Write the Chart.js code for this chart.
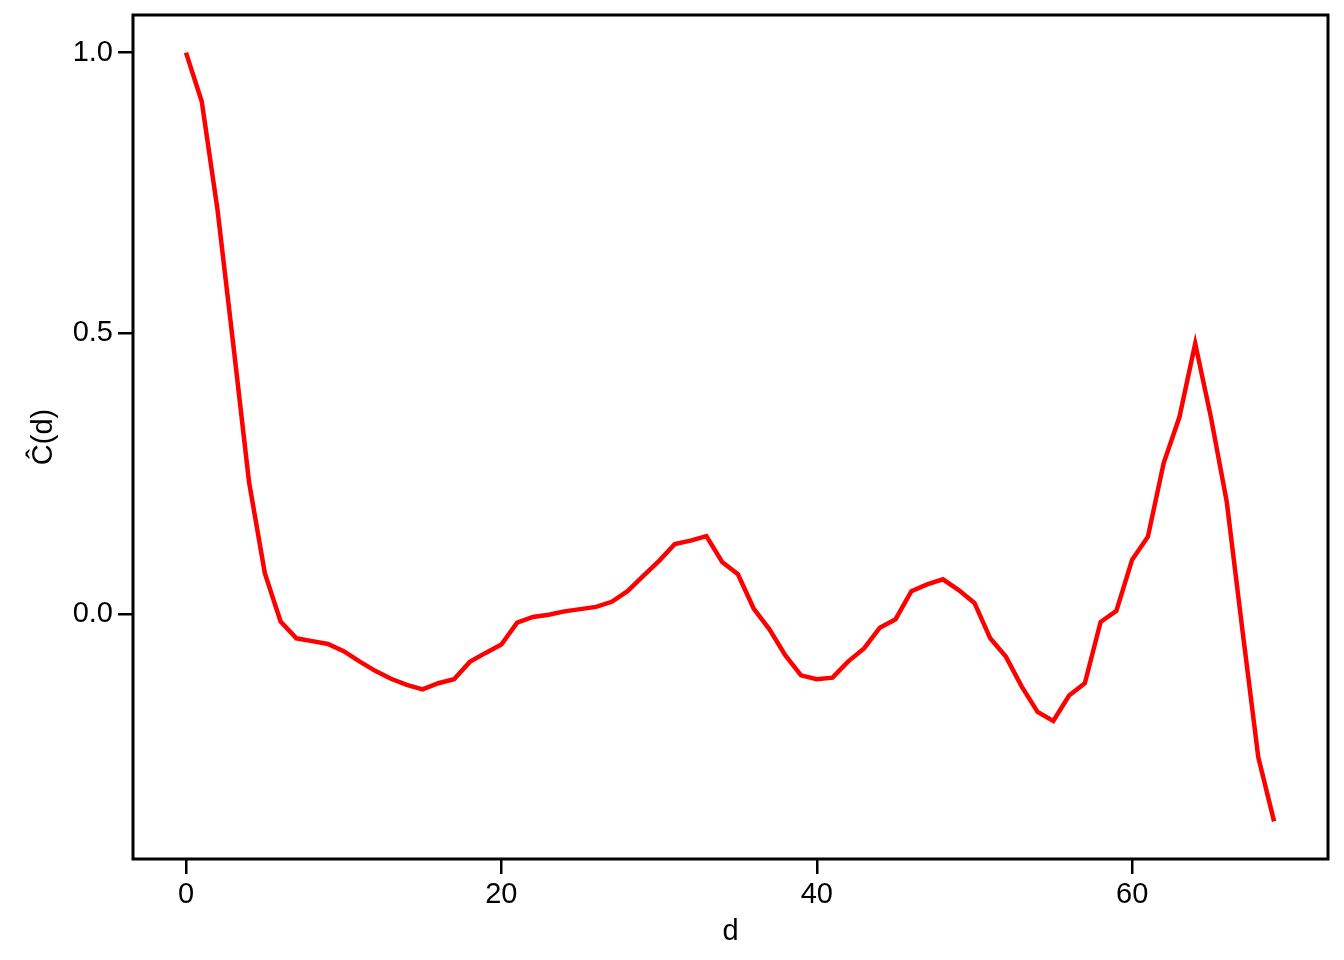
<!DOCTYPE html>
<html>
<head>
<meta charset="utf-8">
<script src="https://cdn.jsdelivr.net/npm/chart.js@4/dist/chart.umd.min.js"></script>
<style>
  html, body { margin: 0; padding: 0; background: #ffffff; }
  #wrap { width: 1344px; height: 960px; position: relative; }
</style>
</head>
<body>
<div id="wrap"><canvas id="c" width="1344" height="960"></canvas></div>
<script>
// ---- data ----
const lags = [0,1,2,3,4,5,6,7,8,9,10,11,12,13,14,15,16,17,18,19,20,21,22,23,24,25,26,27,28,29,30,31,32,33,34,35,36,37,38,39,40,41,42,43,44,45,46,47,48,49,50,51,52,53,54,55,56,57,58,59,60,61,62,63,64,65,66,67,68,69];
const corr = [1.0,0.913,0.72,0.48,0.235,0.073,-0.013,-0.043,-0.048,-0.053,
  -0.066,-0.084,-0.101,-0.115,-0.126,-0.134,-0.123,-0.116,-0.085,-0.069,
  -0.054,-0.015,-0.005,-0.001,0.005,0.009,0.013,0.022,0.041,0.068,
  0.095,0.125,0.131,0.139,0.093,0.071,0.010,-0.027,-0.073,-0.109,
  -0.116,-0.113,-0.084,-0.061,-0.024,-0.009,0.041,0.053,0.062,0.043,
  0.020,-0.043,-0.076,-0.129,-0.174,-0.190,-0.145,-0.123,-0.014,0.006,
  0.097,0.138,0.269,0.351,0.482,0.35,0.2,-0.03,-0.255,-0.369];
const xTicks = [0, 20, 40, 60];
const yTicks = [0.0, 0.5, 1.0];
const xLabel = 'd';
const yLabel = 'Ĉ(d)';

const FONT = "'Liberation Sans', Arial, sans-serif";
const FS = 29;

const boxPlugin = {
  id: 'box',
  afterDraw(chart) {
    const a = chart.chartArea, ctx = chart.ctx;
    ctx.save();
    ctx.strokeStyle = '#000';
    ctx.lineWidth = 3;
    ctx.strokeRect(a.left, a.top, a.right - a.left, a.bottom - a.top);
    ctx.restore();
  }
};

new Chart(document.getElementById('c'), {
  type: 'line',
  data: {
    datasets: [{
      data: lags.map((x, i) => ({ x: x, y: corr[i] })),
      borderColor: '#ff0000',
      borderWidth: 4.5,
      pointRadius: 0,
      tension: 0,
      fill: false,
      clip: false
    }]
  },
  options: {
    responsive: false,
    animation: false,
    devicePixelRatio: 1,
    layout: { padding: { top: 15, right: 16, left: 0, bottom: 0 } },
    plugins: { legend: { display: false }, tooltip: { enabled: false } },
    scales: {
      x: {
        type: 'linear',
        min: -3.36,
        max: 72.42,
        afterFit(s) { s.height = 101; s.paddingLeft = 0; s.paddingRight = 0; },
        afterBuildTicks(s) { s.ticks = xTicks.map(v => ({ value: v })); },
        grid: { display: true, drawOnChartArea: false, drawTicks: true, tickLength: 15, color: '#000', lineWidth: 2.5 },
        border: { display: false },
        ticks: { color: '#000', font: { family: FONT, size: FS }, padding: 4, maxRotation: 0, callback: v => String(v) },
        title: { display: true, text: xLabel, color: '#000', font: { family: FONT, size: FS }, padding: { top: 0, bottom: 11 } }
      },
      y: {
        type: 'linear',
        min: -0.436,
        max: 1.067,
        afterFit(s) { s.width = 133; s.paddingTop = 0; s.paddingBottom = 0; },
        afterBuildTicks(s) { s.ticks = yTicks.map(v => ({ value: v })); },
        grid: { display: true, drawOnChartArea: false, drawTicks: true, tickLength: 15, color: '#000', lineWidth: 2.5 },
        border: { display: false },
        ticks: { color: '#000', font: { family: FONT, size: FS }, padding: 5, callback: v => Number(v).toFixed(1) },
        title: { display: true, text: yLabel, color: '#000', font: { family: FONT, size: FS }, padding: { top: 27, bottom: 0 } }
      }
    }
  },
  plugins: [boxPlugin]
});
</script>
</body>
</html>
